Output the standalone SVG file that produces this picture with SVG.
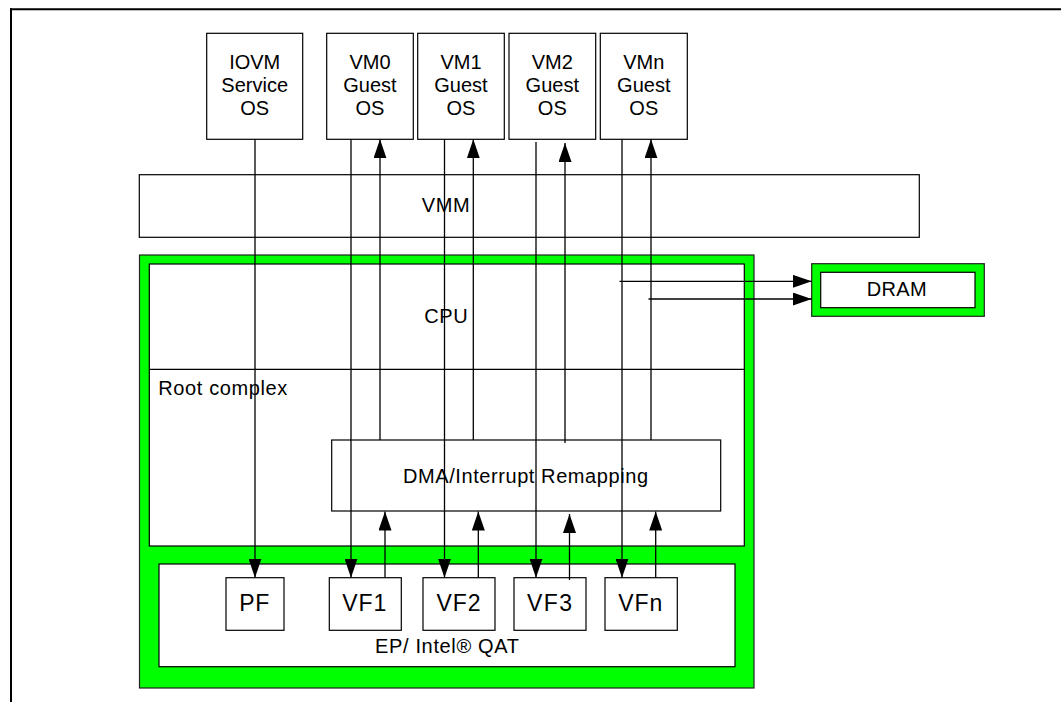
<svg xmlns="http://www.w3.org/2000/svg" width="1061" height="702" viewBox="0 0 1061 702">
<defs>
<marker id="ah" markerUnits="userSpaceOnUse" markerWidth="19" markerHeight="13" refX="19" refY="6.5" orient="auto">
<path d="M0,0 L19,6.5 L0,13 z" fill="#000"/>
</marker>
<style>
text{font-family:"Liberation Sans",Arial,sans-serif;fill:#000}
.box{fill:#fff;stroke:#000;stroke-width:1.2}
.green{fill:#00ff00;stroke:#222;stroke-width:1.2}
.t20{font-size:20px;text-anchor:middle}
.t19{font-size:20px}
.t22{font-size:23px}
.ln{stroke:#000;stroke-width:1.3;fill:none}
.arr{stroke:#000;stroke-width:1.3;fill:none;marker-end:url(#ah)}
</style>
</defs>
<rect width="1061" height="702" fill="#fff"/>
<g id="frame">
<line x1="10" y1="9.3" x2="1061" y2="9.3" stroke="#000" stroke-width="2"/>
<line x1="11" y1="8.3" x2="11" y2="702" stroke="#000" stroke-width="2"/>
</g>
<g id="iovm">
<rect class="box" x="206.7" y="33.3" width="96" height="106"/>
<text class="t20" x="254.7" y="69.3">IOVM</text>
<text class="t20" x="254.7" y="92.3">Service</text>
<text class="t20" x="254.7" y="115.3">OS</text>
</g>
<g id="vm0">
<rect class="box" x="326.7" y="33.3" width="86.6" height="106"/>
<text class="t20" x="370" y="69.3">VM0</text>
<text class="t20" x="370" y="92.3">Guest</text>
<text class="t20" x="370" y="115.3">OS</text>
</g>
<g id="vm1">
<rect class="box" x="417.7" y="33.3" width="86.6" height="106"/>
<text class="t20" x="461" y="69.3">VM1</text>
<text class="t20" x="461" y="92.3">Guest</text>
<text class="t20" x="461" y="115.3">OS</text>
</g>
<g id="vm2">
<rect class="box" x="509" y="33.3" width="86.7" height="106"/>
<text class="t20" x="552.3" y="69.3">VM2</text>
<text class="t20" x="552.3" y="92.3">Guest</text>
<text class="t20" x="552.3" y="115.3">OS</text>
</g>
<g id="vmn">
<rect class="box" x="600.3" y="33.3" width="87" height="106"/>
<text class="t20" x="643.8" y="69.3">VMn</text>
<text class="t20" x="643.8" y="92.3">Guest</text>
<text class="t20" x="643.8" y="115.3">OS</text>
</g>
<g id="vmm">
<rect class="box" x="139.3" y="174.7" width="780" height="62.6"/>
<text class="t19" x="421.7" y="212.3" textLength="48" lengthAdjust="spacing">VMM</text>
</g>
<g id="platform">
<rect class="green" x="139.5" y="255" width="614.5" height="433"/>
</g>
<g id="cpu">
<rect class="box" x="149.3" y="264" width="595" height="282"/>
<line x1="149.3" y1="369.3" x2="744.3" y2="369.3" stroke="#000" stroke-width="1.2"/>
<text class="t20" x="424.3" y="322.7" textLength="43.4" lengthAdjust="spacing" style="text-anchor:start">CPU</text>
</g>
<g id="root-complex">
<text class="t19" x="158.3" y="395" textLength="129" lengthAdjust="spacing">Root complex</text>
</g>
<g id="dma">
<rect class="box" x="331.7" y="440" width="389" height="71"/>
<text class="t19" x="403" y="482.5" textLength="245" lengthAdjust="spacing">DMA/Interrupt Remapping</text>
</g>
<g id="ep">
<rect class="box" x="159" y="564" width="576" height="102.7"/>
<text class="t19" x="375" y="653.3" textLength="144" lengthAdjust="spacing">EP/ Intel® QAT</text>
</g>
<g id="pf">
<rect class="box" x="226" y="577.7" width="58" height="52.6"/>
<text class="t22" x="239.3" y="611" textLength="30" lengthAdjust="spacing">PF</text>
</g>
<g id="vf1">
<rect class="box" x="329.3" y="577.7" width="72" height="52.6"/>
<text class="t22" x="342.3" y="611" textLength="44" lengthAdjust="spacing">VF1</text>
</g>
<g id="vf2">
<rect class="box" x="423" y="577.7" width="72" height="52.6"/>
<text class="t22" x="436.5" y="611" textLength="44" lengthAdjust="spacing">VF2</text>
</g>
<g id="vf3">
<rect class="box" x="514" y="577.7" width="72" height="52.6"/>
<text class="t22" x="527" y="611" textLength="45" lengthAdjust="spacing">VF3</text>
</g>
<g id="vfn">
<rect class="box" x="605" y="577.7" width="72.3" height="52.6"/>
<text class="t22" x="618.3" y="611" textLength="44" lengthAdjust="spacing">VFn</text>
</g>
<g id="dram">
<rect class="green" x="811.7" y="263.7" width="172.6" height="52.6"/>
<rect class="box" x="820.7" y="272.3" width="154.3" height="35.4"/>
<text class="t19" x="866.7" y="295.7" textLength="60" lengthAdjust="spacing">DRAM</text>
</g>
<g id="connectors">
<line class="arr" x1="255" y1="139.3" x2="255" y2="577.7"/>
<line class="arr" x1="351" y1="139.3" x2="351" y2="577.7"/>
<line class="arr" x1="380" y1="440" x2="380" y2="139.3"/>
<line class="arr" x1="444.5" y1="139.3" x2="444.5" y2="577.7"/>
<line class="arr" x1="473.3" y1="440" x2="473.3" y2="139.3"/>
<line class="arr" x1="536" y1="142" x2="536" y2="577.7"/>
<line class="arr" x1="565" y1="443" x2="565" y2="143"/>
<line class="arr" x1="622" y1="139.3" x2="622" y2="577.7"/>
<line class="arr" x1="651" y1="440" x2="651" y2="139.3"/>
<line class="arr" x1="385" y1="577.7" x2="385" y2="511.5"/>
<line class="arr" x1="478.3" y1="577.7" x2="478.3" y2="511.5"/>
<line class="arr" x1="569.5" y1="580" x2="569.5" y2="514"/>
<line class="arr" x1="655.7" y1="577.7" x2="655.7" y2="511.5"/>
<line class="arr" x1="619.5" y1="281.3" x2="811.7" y2="281.3"/>
<line class="arr" x1="648.5" y1="299" x2="811.7" y2="299"/>
</g>
</svg>
